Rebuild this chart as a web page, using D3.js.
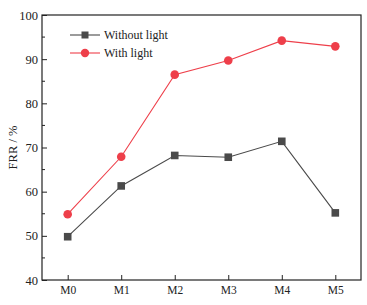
<!DOCTYPE html>
<html><head><meta charset="utf-8">
<script src="https://cdn.jsdelivr.net/npm/d3@7"></script>
<style>body{margin:0;background:#fff}svg{display:block}
svg text{font-family:"Liberation Serif","Times New Roman",serif !important;fill:#222}</style>
</head><body>
<script>
const categories = ["M0","M1","M2","M3","M4","M5"];
const withoutLight = [49.8, 61.3, 68.2, 67.8, 71.4, 55.2];
const withLight = [54.9, 67.9, 86.5, 89.7, 94.2, 92.9];
const yTicks = [40,50,60,70,80,90,100];
const seriesNames = ["Without light","With light"];

const W=367,H=305;
const m={l:42,t:15,r:6,b:25};
const svg=d3.select("body").append("svg").attr("width",W).attr("height",H);
const x=d3.scalePoint().domain(categories).range([m.l,W-m.r]).padding(0.48);
const y=d3.scaleLinear().domain([40,100]).range([H-m.b,m.t]);

const gray="#4a4a4a", red="#ee3f4a";

svg.append("rect").attr("x",m.l).attr("y",m.t).attr("width",W-m.r-m.l).attr("height",H-m.b-m.t)
 .attr("fill","none").attr("stroke","#222").attr("stroke-width",1.2);

const ya=svg.append("g").attr("transform",`translate(${m.l},0)`)
 .call(d3.axisLeft(y).tickValues(yTicks).tickSize(-5).tickPadding(4).tickFormat(d3.format("d")));
ya.select(".domain").remove();
ya.selectAll("line").attr("stroke","#222");
ya.selectAll("text").style("font-size","12.5px");
svg.append("g").selectAll("line").data(d3.range(45,100,10)).join("line")
 .attr("x1",m.l).attr("x2",m.l+3).attr("y1",d=>y(d)).attr("y2",d=>y(d)).attr("stroke","#222");

const xa=svg.append("g").attr("transform",`translate(0,${H-m.b})`)
 .call(d3.axisBottom(x).tickSize(-5).tickPadding(6));
xa.select(".domain").remove();
xa.selectAll("line").attr("stroke","#222");
xa.selectAll("text").style("font-size","11.5px");

svg.append("text").attr("transform",`translate(17,${(m.t+H-m.b)/2}) rotate(-90)`)
 .attr("text-anchor","middle").style("font-size","12.5px").text("FRR / %");

const line=d3.line().x((d,i)=>x(categories[i])).y(d=>y(d));
svg.append("path").datum(withoutLight).attr("d",line).attr("fill","none").attr("stroke",gray).attr("stroke-width",1.1);
svg.append("path").datum(withLight).attr("d",line).attr("fill","none").attr("stroke",red).attr("stroke-width",1.1);
svg.append("g").selectAll("rect").data(withoutLight).join("rect")
 .attr("x",(d,i)=>x(categories[i])-3.8).attr("y",d=>y(d)-3.8).attr("width",7.6).attr("height",7.6).attr("fill",gray);
svg.append("g").selectAll("circle").data(withLight).join("circle")
 .attr("cx",(d,i)=>x(categories[i])).attr("cy",d=>y(d)).attr("r",4.3).attr("fill",red);

const lg=svg.append("g");
const ly=[35,53];
[gray,red].forEach((c,i)=>{
  lg.append("line").attr("x1",70).attr("x2",100).attr("y1",ly[i]).attr("y2",ly[i]).attr("stroke",c).attr("stroke-width",1.1);
  if(i===0) lg.append("rect").attr("x",85-3.5).attr("y",ly[i]-3.5).attr("width",7).attr("height",7).attr("fill",c);
  else lg.append("circle").attr("cx",85).attr("cy",ly[i]).attr("r",4.2).attr("fill",c);
  lg.append("text").attr("x",104).attr("y",ly[i]+4).style("font-size","12px").text(seriesNames[i]);
});
</script>
</body></html>
